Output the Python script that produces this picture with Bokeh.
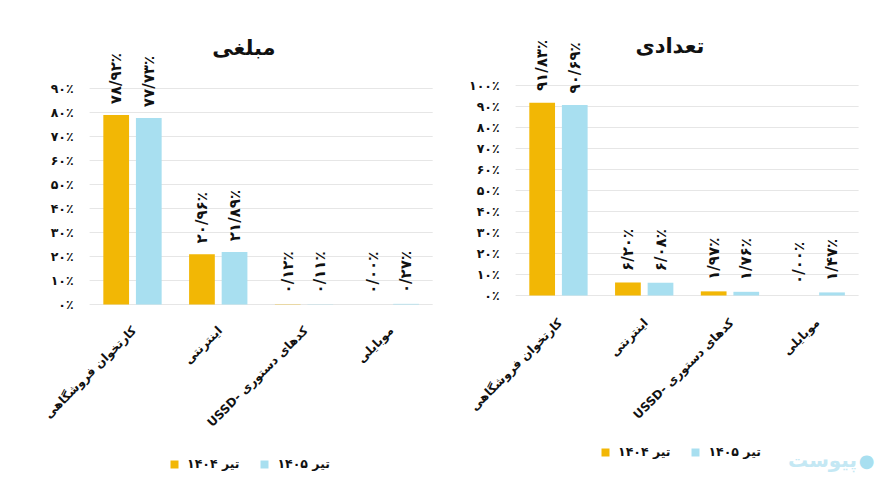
import math
from bokeh.plotting import figure
from bokeh.models import Legend, LegendItem, Label, ColumnDataSource
from bokeh.layouts import row
from bokeh.embed import file_html
from bokeh.resources import INLINE
from bokeh.core.properties import value

# ---------------- data ----------------
categories = ["کارتخوان فروشگاهی", "اینترنتی", "USSD- کدهای دستوری", "موبایلی"]
series_names = ["تیر ۱۴۰۴", "تیر ۱۴۰۵"]
amount_1404 = [78.92, 20.96, 0.12, 0.00]
amount_1405 = [77.73, 21.89, 0.11, 0.27]
count_1404 = [91.83, 6.20, 1.97, 0.00]
count_1405 = [90.69, 6.08, 1.76, 1.47]
title_amount = "مبلغی"
title_count = "تعدادی"
amount_ticks = [0, 10, 20, 30, 40, 50, 60, 70, 80, 90]
count_ticks = [0, 10, 20, 30, 40, 50, 60, 70, 80, 90, 100]
watermark = "پیوست"

# ---------------- style ----------------
ORANGE = "#F2B705"
BLUE = "#A8DFF0"
GRID = "#E6E6E6"
TXT = "#111111"
FONT = "DejaVu Sans"
FA = str.maketrans("0123456789", "۰۱۲۳۴۵۶۷۸۹")
DODGE = 0.19
BAR_W = 0.30


def fa_pct(v, dec=True):
    s = f"{v:.2f}".replace(".", "/") if dec else f"{int(v)}"
    return s.translate(FA) + "٪"


def make_panel(title, v1, v2, ticks, x_range, y_range, width,
               title_y, gap, cat_y, legend_loc):
    p = figure(width=width, height=489, x_range=x_range, y_range=y_range,
               output_backend="svg", toolbar_location=None,
               x_axis_location=None, y_axis_location=None,
               min_border_left=0, min_border_right=0,
               min_border_top=0, min_border_bottom=0)
    p.outline_line_color = None
    p.background_fill_color = "white"
    p.xgrid.grid_line_color = None
    p.ygrid.grid_line_color = None

    n = len(categories)
    idx = list(range(n))
    x_lo, x_hi = -0.5, n - 0.5

    # horizontal grid lines and tick labels
    tsrc = ColumnDataSource(dict(y=ticks, lab=[fa_pct(t, dec=False) for t in ticks],
                                 x0=[x_lo] * len(ticks), x1=[x_hi] * len(ticks)))
    p.segment(x0="x0", x1="x1", y0="y", y1="y", source=tsrc,
              line_color=GRID, line_width=1)
    p.text(x="x0", y="y", text="lab", source=tsrc, x_offset=-16,
           text_align="right", text_baseline="middle",
           text_font=value(FONT), text_font_style="bold",
           text_font_size="12.5px", text_color=TXT)

    src = ColumnDataSource(dict(
        x1=[i - DODGE for i in idx], x2=[i + DODGE for i in idx],
        xc=[i + 0.02 for i in idx], cat=categories, v1=v1, v2=v2,
        l1=[fa_pct(v) for v in v1], l2=[fa_pct(v) for v in v2],
        y1=[v + gap for v in v1], y2=[v + gap for v in v2],
        ycat=[cat_y] * n))
    r1 = p.vbar(x="x1", top="v1", width=BAR_W, source=src,
                fill_color=ORANGE, line_color=None)
    r2 = p.vbar(x="x2", top="v2", width=BAR_W, source=src,
                fill_color=BLUE, line_color=None)
    for xk, yk, lk in (("x1", "y1", "l1"), ("x2", "y2", "l2")):
        p.text(x=xk, y=yk, text=lk, source=src,
               angle=math.pi / 2, text_align="left", text_baseline="middle",
               text_font=value(FONT), text_font_style="bold",
               text_font_size="15px", text_color=TXT)
    # category labels (rotated 45 degrees, ending at the category centre)
    p.text(x="xc", y="ycat", text="cat", source=src, angle=math.pi / 4,
           text_align="right", text_baseline="middle",
           text_font=value(FONT), text_font_style="bold",
           text_font_size="12px", text_color=TXT)

    p.add_layout(Label(x=1.3, y=title_y, text=title, text_align="center",
                       text_baseline="middle", text_font=FONT,
                       text_font_style="bold", text_font_size="21px",
                       text_color=TXT))

    legend = Legend(items=[LegendItem(label=series_names[0], renderers=[r1]),
                           LegendItem(label=series_names[1], renderers=[r2])],
                    orientation="horizontal", location=legend_loc,
                    margin=0, padding=4, spacing=20,
                    glyph_width=10, glyph_height=10, label_standoff=8,
                    border_line_color=None, background_fill_alpha=0,
                    label_text_font=FONT, label_text_font_style="bold",
                    label_text_font_size="12.5px", label_text_color=TXT)
    p.add_layout(legend, "center")
    return p


p1 = make_panel(title_amount, amount_1404, amount_1405, amount_ticks,
                (-1.539, 3.708), (-77.08, 126.67), 450, 106.7, 4.5, -10.0, (169, 18))
p2 = make_panel(title_count, count_1404, count_1405, count_ticks,
                (-1.259, 3.907), (-92.38, 140.48), 443, 119.0, 5.5, -12.0, (150, 30))

p2.add_layout(Label(x=372, y=30, x_units="screen", y_units="screen",
                    text=watermark, text_align="center", text_baseline="middle",
                    text_font=FONT, text_font_style="bold", text_font_size="20px",
                    text_color="#C4E8F4"))
p2.add_layout(Label(x=416, y=29, x_units="screen", y_units="screen",
                    text="●", text_align="center", text_baseline="middle",
                    text_font=FONT, text_font_size="18px", text_color="#A8DFF0"))

layout = row(p1, p2)
open("out.html", "w").write(file_html(layout, INLINE))
